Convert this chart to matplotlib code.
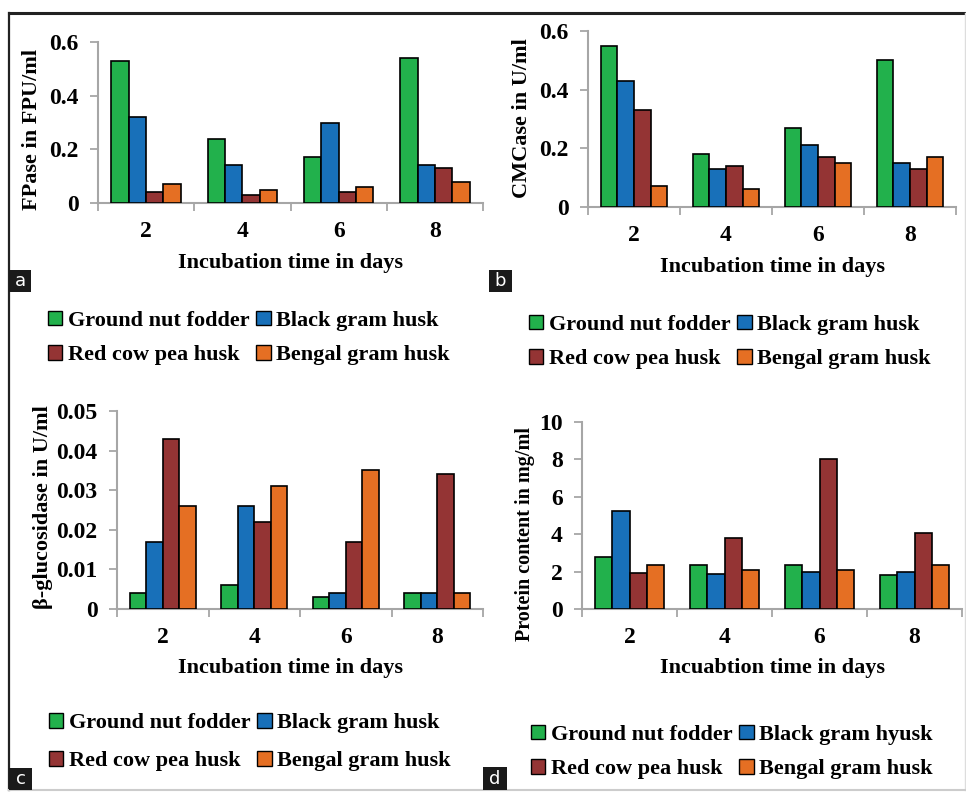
import matplotlib
matplotlib.use("Agg")
import matplotlib.pyplot as plt
import numpy as np
from matplotlib.patches import Patch, Rectangle
from matplotlib.lines import Line2D

days = ["2", "4", "6", "8"]
series = ["Ground nut fodder", "Black gram husk", "Red cow pea husk", "Bengal gram husk"]
colors = ["#22b14c", "#1870b9", "#943434", "#e56f23"]

fpase = [[0.53, 0.24, 0.17, 0.54],
         [0.32, 0.14, 0.30, 0.14],
         [0.04, 0.03, 0.04, 0.13],
         [0.07, 0.05, 0.06, 0.08]]
cmcase = [[0.55, 0.18, 0.27, 0.50],
          [0.43, 0.13, 0.21, 0.15],
          [0.33, 0.14, 0.17, 0.13],
          [0.07, 0.06, 0.15, 0.17]]
bgluc = [[0.004, 0.006, 0.003, 0.004],
         [0.017, 0.026, 0.004, 0.004],
         [0.043, 0.022, 0.017, 0.034],
         [0.026, 0.031, 0.035, 0.004]]
protein = [[2.8, 2.35, 2.35, 1.8],
           [5.25, 1.85, 2.0, 2.0],
           [1.9, 3.8, 8.0, 4.05],
           [2.35, 2.1, 2.1, 2.35]]

W, H = 966, 792
fig = plt.figure(figsize=(W / 100, H / 100), dpi=100)
fig.patch.set_facecolor("white")
serif = "Liberation Serif"


def box(l, t, r, b):
    return [l / W, 1 - b / H, (r - l) / W, (b - t) / H]


def pt(x, y):
    return x / W, 1 - y / H


def panel(rect, data, ymax, ystep, yfmt, ylab, ylab_xy, xlab, xlab_xy,
          legend_xy, legend_labels, letter, letter_box, ysize=16, lspace=0.6):
    ax = fig.add_axes(box(*rect))
    x = np.arange(len(days))
    bw = 0.18
    for i, vals in enumerate(data):
        ax.bar(x + (i - 1.5) * bw, vals, bw, color=colors[i],
               edgecolor="black", linewidth=1.2, zorder=3)
    ax.set_xlim(-0.5, 3.5)
    ax.set_ylim(0, ymax)
    yt = np.arange(0, ymax + ystep / 2, ystep)
    ax.set_yticks(yt)
    ax.set_yticklabels([yfmt(v) for v in yt], fontfamily=serif,
                       fontweight="bold", fontsize=17)
    ax.set_xticks(x)
    ax.set_xticklabels(days, fontfamily=serif, fontweight="bold", fontsize=17)
    ax.set_xticks(np.arange(-0.5, 4, 1), minor=True)
    ax.tick_params(axis="x", which="major", length=0, pad=13)
    ax.tick_params(axis="x", which="minor", length=6, width=1.3,
                   color="#a6a6a6", direction="out")
    ax.tick_params(axis="y", length=6, width=1.3, color="#a6a6a6",
                   direction="out", pad=8)
    for s in ["top", "right"]:
        ax.spines[s].set_visible(False)
    for s in ["left", "bottom"]:
        ax.spines[s].set_color("#a6a6a6")
        ax.spines[s].set_linewidth(1.5)
    ax.patch.set_alpha(0)

    fig.text(*pt(*ylab_xy), ylab, rotation=90, ha="center", va="center",
             fontfamily=serif, fontweight="bold", fontsize=ysize)
    fig.text(*pt(*xlab_xy), xlab, ha="center", va="center",
             fontfamily=serif, fontweight="bold", fontsize=16)

    handles = [Patch(facecolor=colors[i], edgecolor="black", linewidth=1.0)
               for i in range(4)]
    order = [0, 2, 1, 3]
    ax.legend([handles[i] for i in order], [legend_labels[i] for i in order],
              ncol=2, loc="center", bbox_to_anchor=pt(*legend_xy),
              bbox_transform=fig.transFigure, frameon=False,
              prop={"family": serif, "weight": "bold", "size": 16},
              handlelength=0.65, handleheight=0.65, handletextpad=0.25,
              columnspacing=0.3, labelspacing=lspace)

    l, t, r, b = letter_box
    fig.patches.append(Rectangle((l / W, 1 - b / H), (r - l) / W, (b - t) / H,
                                 transform=fig.transFigure, facecolor="#1a1a1a",
                                 edgecolor="none", zorder=5))
    fig.text((l + r) / 2 / W, 1 - (t + b) / 2 / H, letter, ha="center",
             va="center", color="white", fontfamily="DejaVu Sans",
             fontsize=13, zorder=6)
    return ax


f2 = lambda v: "0" if v == 0 else f"{v:.1f}"
f3 = lambda v: "0" if v == 0 else f"{v:.2f}"
f0 = lambda v: f"{v:.0f}"

panel((98, 42, 483, 203), fpase, 0.6, 0.2, f2, "FPase in FPU/ml", (32, 130),
      "Incubation time in days", (290, 263), (249, 338), series, "a",
      (9, 270, 31, 292), lspace=0.65)
panel((588, 31, 956, 207), cmcase, 0.6, 0.2, f2, "CMCase in U/ml", (522, 118),
      "Incubation time in days", (773, 267), (730, 342), series, "b",
      (489, 270, 512, 292), lspace=0.65)
panel((117, 411, 483, 609), bgluc, 0.05, 0.01, f3, "β-glucosidase in U/ml",
      (43, 507), "Incubation time in days", (290, 668), (250, 742), series, "c",
      (9, 768, 32, 790), lspace=0.8)
panel((582, 422, 962, 609), protein, 10, 2, f0, "Protein content in mg/ml",
      (525, 534), "Incuabtion time in days", (772, 668), (732, 752),
      ["Ground nut fodder", "Black gram hyusk", "Red cow pea husk",
       "Bengal gram husk"], "d", (483, 767, 507, 790), ysize=14.5, lspace=0.65)

# outer frame
fig.add_artist(Line2D([9 / W, 965 / W], [1 - 13 / H, 1 - 13 / H],
                      transform=fig.transFigure, color="#222222", linewidth=2.2))
fig.add_artist(Line2D([9 / W, 9 / W], [1 - 13 / H, 1 - 790 / H],
                      transform=fig.transFigure, color="#222222", linewidth=1.6))
fig.add_artist(Line2D([965 / W, 965 / W], [1 - 13 / H, 1 - 790 / H],
                      transform=fig.transFigure, color="#dddddd", linewidth=1.0))
fig.add_artist(Line2D([9 / W, 965 / W], [1 - 790 / H, 1 - 790 / H],
                      transform=fig.transFigure, color="#cccccc", linewidth=1.5))

fig.savefig("out.png", dpi=100)
